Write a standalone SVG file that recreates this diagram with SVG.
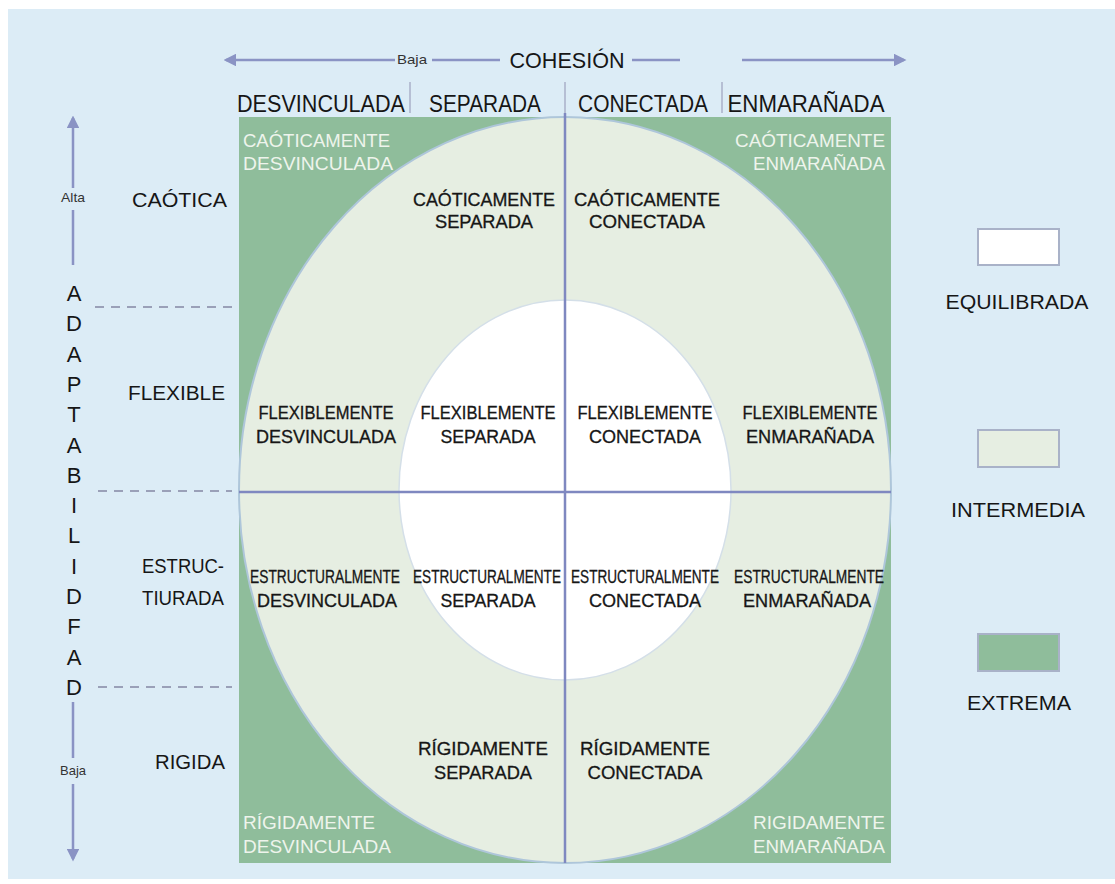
<svg xmlns="http://www.w3.org/2000/svg" width="1115" height="884" viewBox="0 0 1115 884">
<defs>
<style>
text{font-family:"Liberation Sans",Arial,sans-serif;fill:#161616}
.col{font-size:24px;text-anchor:middle}
.row{font-size:20px;text-anchor:end}
.cell{font-size:18px;text-anchor:middle;stroke:#161616;stroke-width:0.3}
.est{font-size:15px;text-anchor:middle;stroke:#161616;stroke-width:0.25}
.corner{font-size:18px;fill:#eef4ec}
.ax{font-size:22px;text-anchor:middle}
.small{font-size:13px;text-anchor:middle;fill:#333}
.leg{font-size:20px;text-anchor:middle}
.axis{stroke:#8a93c4;stroke-width:2.5;fill:none}
.dash{stroke:#9aa0b8;stroke-width:2;stroke-dasharray:9 7;fill:none}
.tick{stroke:#aab0c8;stroke-width:1.5}
.grid{stroke:#7f88c0;stroke-width:2.5}
</style>
<marker id="ah" viewBox="0 0 10 10" refX="8" refY="5" markerWidth="5" markerHeight="5" orient="auto-start-reverse">
<path d="M0,0 L10,5 L0,10 z" fill="#8a93c4"/>
</marker>
</defs>
<rect x="0" y="0" width="1115" height="884" fill="#ffffff"/>
<rect x="8" y="9" width="1107" height="870" fill="#dcecf6"/>

<g id="matrix">
<rect x="239" y="117" width="652" height="746" fill="#8fbd9b"/>
<ellipse cx="565" cy="490" rx="326" ry="373" fill="#e6eee2" stroke="#aec6da" stroke-width="2"/>
<ellipse cx="565" cy="490" rx="166" ry="190" fill="#ffffff" stroke="#d4dfe8" stroke-width="1.5"/>
</g>

<g id="connectors">
<line class="axis" x1="395" y1="60" x2="226" y2="60" marker-end="url(#ah)"/>
<line class="axis" x1="432" y1="60" x2="500" y2="60"/>
<line class="axis" x1="632" y1="60" x2="680" y2="60"/>
<line class="axis" x1="742" y1="60" x2="904" y2="60" marker-end="url(#ah)"/>
<line class="axis" x1="73" y1="188" x2="73" y2="118" marker-end="url(#ah)"/>
<line class="axis" x1="73" y1="210" x2="73" y2="265"/>
<line class="axis" x1="73" y1="702" x2="73" y2="758"/>
<line class="axis" x1="73" y1="784" x2="73" y2="859" marker-end="url(#ah)"/>
<line class="dash" x1="95" y1="307" x2="232" y2="307"/>
<line class="dash" x1="98" y1="491" x2="232" y2="491"/>
<line class="dash" x1="98" y1="687" x2="232" y2="687"/>
<line class="tick" x1="410" y1="82" x2="410" y2="113"/>
<line class="tick" x1="565" y1="82" x2="565" y2="113"/>
<line class="tick" x1="722" y1="82" x2="722" y2="113"/>
<line class="grid" x1="565" y1="113" x2="565" y2="863"/>
<line class="grid" x1="239" y1="492" x2="891" y2="492"/>
</g>

<g id="header">
<text x="412" y="64" class="small" textLength="30" lengthAdjust="spacingAndGlyphs">Baja</text>
<text x="567" y="68" style="font-size:22px;text-anchor:middle" textLength="115" lengthAdjust="spacingAndGlyphs">COHESIÓN</text>
<text x="321" y="112" class="col" textLength="168" lengthAdjust="spacingAndGlyphs">DESVINCULADA</text>
<text x="485" y="112" class="col" textLength="112" lengthAdjust="spacingAndGlyphs">SEPARADA</text>
<text x="643" y="112" class="col" textLength="130" lengthAdjust="spacingAndGlyphs">CONECTADA</text>
<text x="806" y="112" class="col" textLength="157" lengthAdjust="spacingAndGlyphs">ENMARAÑADA</text>
</g>

<g id="axis-left">
<text x="73" y="202" class="small" textLength="24" lengthAdjust="spacingAndGlyphs">Alta</text>
<text x="73" y="775" class="small" textLength="26" lengthAdjust="spacingAndGlyphs">Baja</text>
<text x="74" y="301" class="ax">A</text>
<text x="74" y="331" class="ax">D</text>
<text x="74" y="362" class="ax">A</text>
<text x="74" y="392" class="ax">P</text>
<text x="74" y="422" class="ax">T</text>
<text x="74" y="453" class="ax">A</text>
<text x="74" y="483" class="ax">B</text>
<text x="74" y="513" class="ax">I</text>
<text x="74" y="543" class="ax">L</text>
<text x="74" y="574" class="ax">I</text>
<text x="74" y="604" class="ax">D</text>
<text x="74" y="634" class="ax">F</text>
<text x="74" y="665" class="ax">A</text>
<text x="74" y="695" class="ax">D</text>
</g>

<g id="rows">
<text x="227" y="207" class="row" textLength="95" lengthAdjust="spacingAndGlyphs">CAÓTICA</text>
<text x="225" y="400" class="row" textLength="97" lengthAdjust="spacingAndGlyphs">FLEXIBLE</text>
<text x="224" y="573" class="row" textLength="82" lengthAdjust="spacingAndGlyphs">ESTRUC-</text>
<text x="224" y="605" class="row" textLength="82" lengthAdjust="spacingAndGlyphs">TIURADA</text>
<text x="225" y="769" class="row" textLength="70" lengthAdjust="spacingAndGlyphs">RIGIDA</text>
</g>

<g id="corner-tl">
<text x="243" y="147" class="corner" textLength="147" lengthAdjust="spacingAndGlyphs">CAÓTICAMENTE</text>
<text x="243" y="170" class="corner" textLength="150" lengthAdjust="spacingAndGlyphs">DESVINCULADA</text>
</g>
<g id="corner-tr">
<text x="885" y="147" class="corner" style="text-anchor:end" textLength="150" lengthAdjust="spacingAndGlyphs">CAÓTICAMENTE</text>
<text x="885" y="170" class="corner" style="text-anchor:end" textLength="132" lengthAdjust="spacingAndGlyphs">ENMARAÑADA</text>
</g>
<g id="corner-bl">
<text x="243" y="829" class="corner" textLength="132" lengthAdjust="spacingAndGlyphs">RÍGIDAMENTE</text>
<text x="243" y="853" class="corner" textLength="148" lengthAdjust="spacingAndGlyphs">DESVINCULADA</text>
</g>
<g id="corner-br">
<text x="885" y="829" class="corner" style="text-anchor:end" textLength="132" lengthAdjust="spacingAndGlyphs">RIGIDAMENTE</text>
<text x="885" y="853" class="corner" style="text-anchor:end" textLength="132" lengthAdjust="spacingAndGlyphs">ENMARAÑADA</text>
</g>

<g id="caot-sep">
<text x="484" y="206" class="cell" textLength="142" lengthAdjust="spacingAndGlyphs">CAÓTICAMENTE</text>
<text x="484" y="228" class="cell" textLength="98" lengthAdjust="spacingAndGlyphs">SEPARADA</text>
</g>
<g id="caot-con">
<text x="647" y="206" class="cell" textLength="146" lengthAdjust="spacingAndGlyphs">CAÓTICAMENTE</text>
<text x="647" y="228" class="cell" textLength="116" lengthAdjust="spacingAndGlyphs">CONECTADA</text>
</g>

<g id="flex-des">
<text x="326" y="419" class="cell" textLength="135" lengthAdjust="spacingAndGlyphs">FLEXIBLEMENTE</text>
<text x="326" y="443" class="cell" textLength="140" lengthAdjust="spacingAndGlyphs">DESVINCULADA</text>
</g>
<g id="flex-sep">
<text x="488" y="419" class="cell" textLength="135" lengthAdjust="spacingAndGlyphs">FLEXIBLEMENTE</text>
<text x="488" y="443" class="cell" textLength="95" lengthAdjust="spacingAndGlyphs">SEPARADA</text>
</g>
<g id="flex-con">
<text x="645" y="419" class="cell" textLength="135" lengthAdjust="spacingAndGlyphs">FLEXIBLEMENTE</text>
<text x="645" y="443" class="cell" textLength="112" lengthAdjust="spacingAndGlyphs">CONECTADA</text>
</g>
<g id="flex-enm">
<text x="810" y="419" class="cell" textLength="135" lengthAdjust="spacingAndGlyphs">FLEXIBLEMENTE</text>
<text x="810" y="443" class="cell" textLength="128" lengthAdjust="spacingAndGlyphs">ENMARAÑADA</text>
</g>

<g id="est-des">
<text transform="translate(325,583) scale(1,1.2)" class="est" textLength="150" lengthAdjust="spacingAndGlyphs">ESTRUCTURALMENTE</text>
<text x="327" y="607" class="cell" textLength="140" lengthAdjust="spacingAndGlyphs">DESVINCULADA</text>
</g>
<g id="est-sep">
<text transform="translate(487,583) scale(1,1.2)" class="est" textLength="148" lengthAdjust="spacingAndGlyphs">ESTRUCTURALMENTE</text>
<text x="488" y="607" class="cell" textLength="95" lengthAdjust="spacingAndGlyphs">SEPARADA</text>
</g>
<g id="est-con">
<text transform="translate(645,583) scale(1,1.2)" class="est" textLength="148" lengthAdjust="spacingAndGlyphs">ESTRUCTURALMENTE</text>
<text x="645" y="607" class="cell" textLength="112" lengthAdjust="spacingAndGlyphs">CONECTADA</text>
</g>
<g id="est-enm">
<text transform="translate(809,583) scale(1,1.2)" class="est" textLength="150" lengthAdjust="spacingAndGlyphs">ESTRUCTURALMENTE</text>
<text x="807" y="607" class="cell" textLength="128" lengthAdjust="spacingAndGlyphs">ENMARAÑADA</text>
</g>

<g id="rig-sep">
<text x="483" y="755" class="cell" textLength="130" lengthAdjust="spacingAndGlyphs">RÍGIDAMENTE</text>
<text x="483" y="779" class="cell" textLength="98" lengthAdjust="spacingAndGlyphs">SEPARADA</text>
</g>
<g id="rig-con">
<text x="645" y="755" class="cell" textLength="130" lengthAdjust="spacingAndGlyphs">RÍGIDAMENTE</text>
<text x="645" y="779" class="cell" textLength="115" lengthAdjust="spacingAndGlyphs">CONECTADA</text>
</g>

<g id="legend-equilibrada">
<rect x="978" y="229" width="81" height="36" fill="#ffffff" stroke="#a9b2c8" stroke-width="2"/>
<text x="1017" y="309" class="leg" textLength="143" lengthAdjust="spacingAndGlyphs">EQUILIBRADA</text>
</g>
<g id="legend-intermedia">
<rect x="978" y="430" width="81" height="37" fill="#e6eee2" stroke="#a9b2c8" stroke-width="2"/>
<text x="1018" y="517" class="leg" textLength="134" lengthAdjust="spacingAndGlyphs">INTERMEDIA</text>
</g>
<g id="legend-extrema">
<rect x="978" y="634" width="81" height="37" fill="#8fbd9b" stroke="#a9b2c8" stroke-width="2"/>
<text x="1019" y="710" class="leg" textLength="104" lengthAdjust="spacingAndGlyphs">EXTREMA</text>
</g>
</svg>
